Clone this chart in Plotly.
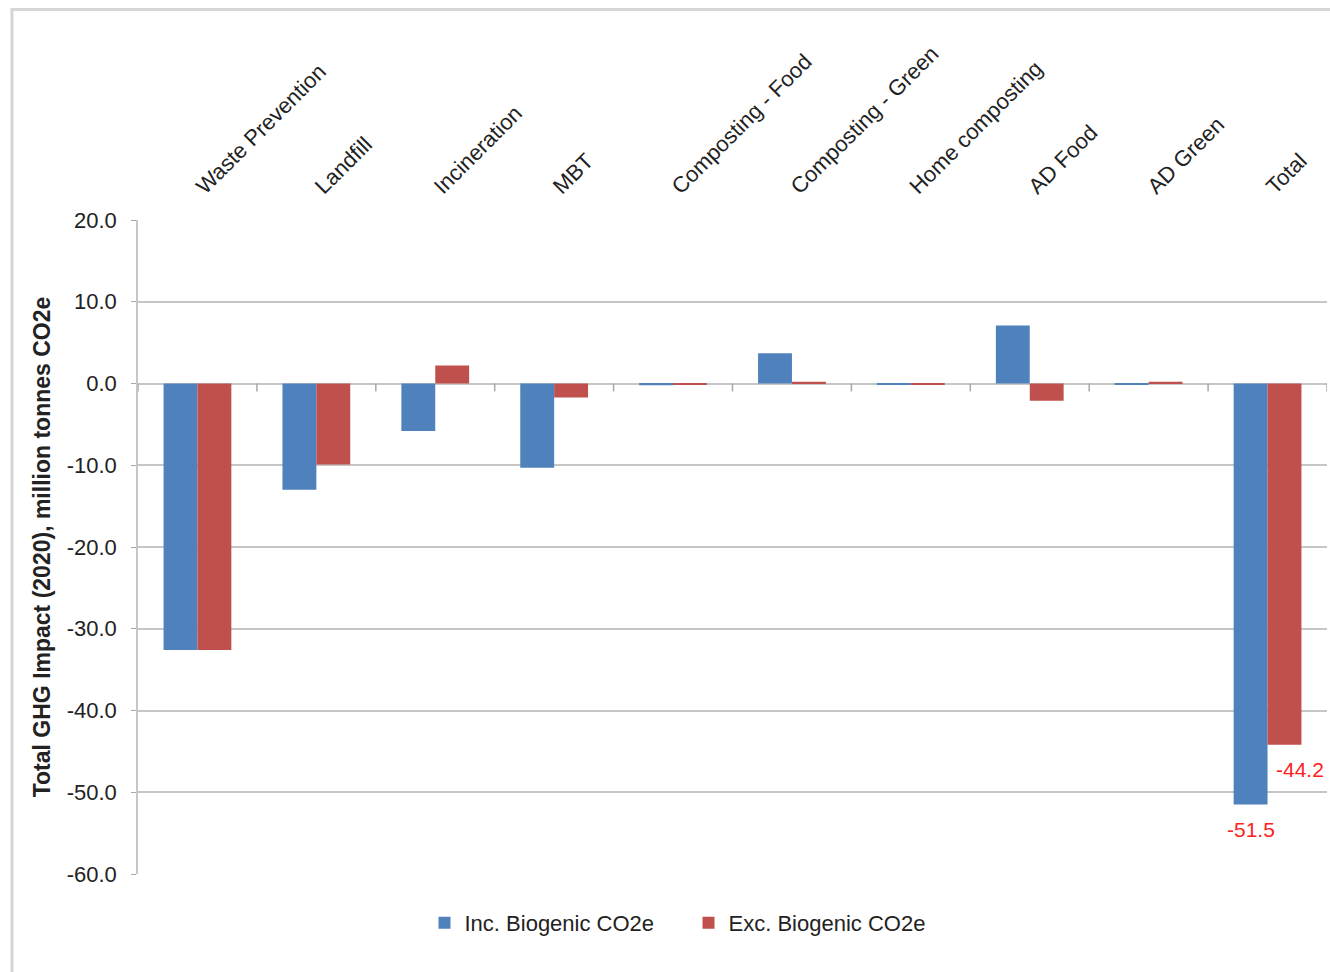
import plotly.graph_objects as go

categories = ["Waste Prevention", "Landfill", "Incineration", "MBT",
              "Composting - Food", "Composting - Green", "Home composting",
              "AD Food", "AD Green", "Total"]
inc_biogenic = [-32.6, -13.0, -5.8, -10.3, -0.2, 3.7, -0.1, 7.1, -0.1, -51.5]
exc_biogenic = [-32.6, -9.9, 2.2, -1.7, -0.1, 0.2, -0.1, -2.1, 0.2, -44.2]
y_tick_values = [20, 10, 0, -10, -20, -30, -40, -50, -60]
y_tick_labels = ["20.0", "10.0", "0.0", "-10.0", "-20.0", "-30.0", "-40.0", "-50.0", "-60.0"]

BLUE = "#4F81BD"
RED = "#C0504D"
GRID = "#c6c6c6"
FONT = "Liberation Sans, Arial, sans-serif"

fig = go.Figure()
fig.add_trace(go.Bar(name="Inc. Biogenic CO2e", x=categories, y=inc_biogenic,
                     marker=dict(color=BLUE, line=dict(width=0))))
fig.add_trace(go.Bar(name="Exc. Biogenic CO2e", x=categories, y=exc_biogenic,
                     marker=dict(color=RED, line=dict(width=0))))

# value labels under the two "Total" bars
fig.add_annotation(x=categories[-1], y=inc_biogenic[-1], text=f"{inc_biogenic[-1]:.1f}",
                   showarrow=False, xshift=-17, yshift=-11, yanchor="top",
                   font=dict(color="#FF2020", size=21, family=FONT))
fig.add_annotation(x=categories[-1], y=exc_biogenic[-1], text=f"{exc_biogenic[-1]:.1f}",
                   showarrow=False, xshift=32, yshift=-11, yanchor="top",
                   font=dict(color="#FF2020", size=21, family=FONT))

# small tick marks hanging from the zero line at category boundaries
shapes = []
for i in range(len(categories) + 1):
    shapes.append(dict(type="line", xref="x", yref="y", x0=i - 0.5, x1=i - 0.5,
                       ysizemode="pixel", yanchor=0, y0=0, y1=-8,
                       line=dict(color="#a8a8a8", width=1.5)))
# outer chart frame
shapes.append(dict(type="rect", xref="paper", yref="paper",
                   x0=-0.106, x1=1.2, y0=-0.3, y1=1.322,
                   line=dict(color="#d6d6d6", width=3), layer="below"))

fig.update_layout(
    width=1330, height=972,
    margin=dict(l=138, r=3, t=220, b=98),
    paper_bgcolor="white", plot_bgcolor="white",
    font=dict(family=FONT, size=22, color="#222222"),
    barmode="group", bargap=0.43, bargroupgap=0,
    showlegend=True,
    legend=dict(orientation="h", x=0.463, xanchor="center", y=-0.075, yanchor="middle",
                font=dict(size=22, family=FONT), entrywidth=219, entrywidthmode="pixels",
                itemwidth=30, traceorder="normal"),
    shapes=shapes,
    xaxis=dict(side="top", tickangle=-45, showgrid=False, showline=False, ticks="",
               tickfont=dict(size=22, family=FONT), ticklabelstandoff=16,
               range=[-0.5, len(categories) - 0.5]),
    yaxis=dict(range=[-60, 20], tickvals=y_tick_values, ticktext=y_tick_labels,
               showgrid=True, gridcolor=GRID, gridwidth=1.5, zeroline=True,
               zerolinecolor=GRID, zerolinewidth=1.5, showline=True, linecolor=GRID,
               linewidth=1.5, ticks="outside", ticklen=5, tickcolor="#a8a8a8",
               ticklabelstandoff=10, tickfont=dict(size=22, family=FONT),
               title=dict(text="<b>Total GHG Impact (2020), million tonnes CO2e</b>",
                          font=dict(size=23, family=FONT), standoff=10)),
)

fig.write_html("out.html")
